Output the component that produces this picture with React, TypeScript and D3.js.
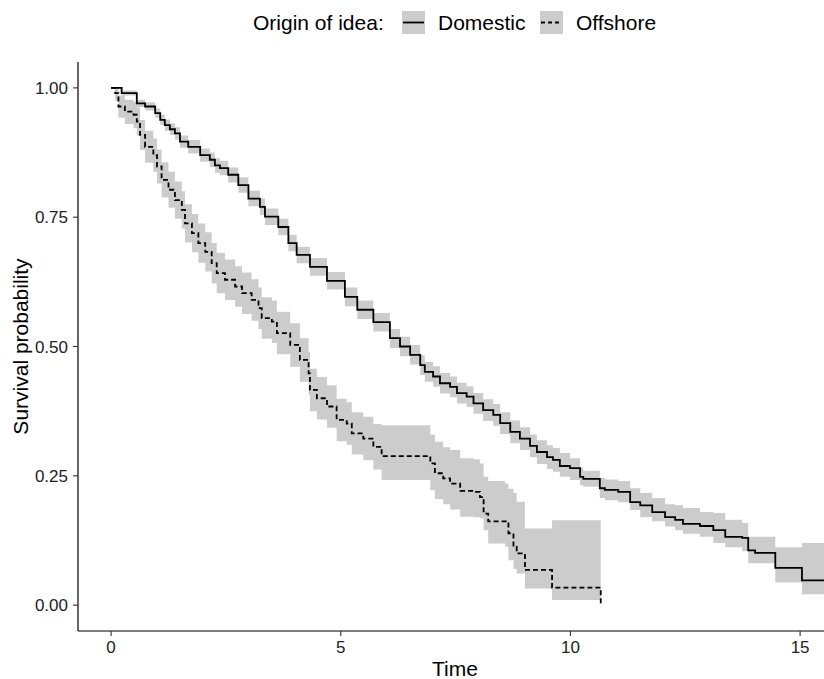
import * as d3 from "d3";

// Kaplan-Meier estimates: time, survival, CI upper, CI lower
const domesticTime = [0, 0.23, 0.56, 0.74, 0.96, 1.07, 1.17, 1.28, 1.39, 1.5, 1.68, 1.94, 2.15, 2.26, 2.37, 2.55, 2.77, 2.99, 3.24, 3.35, 3.64, 3.86, 4.04, 4.33, 4.7, 5.09, 5.36, 5.71, 6.07, 6.29, 6.51, 6.73, 6.83, 7.01, 7.16, 7.38, 7.53, 7.74, 7.89, 8.1, 8.32, 8.47, 8.69, 8.9, 9.12, 9.27, 9.49, 9.62, 9.77, 9.99, 10.21, 10.28, 10.64, 10.75, 11.04, 11.3, 11.52, 11.78, 12.06, 12.28, 12.45, 12.82, 13.11, 13.37, 13.74, 13.87, 14.02, 14.46, 15.04, 15.8];
const domesticSurv = [1, 0.99, 0.97, 0.964, 0.951, 0.938, 0.928, 0.92, 0.912, 0.896, 0.886, 0.87, 0.861, 0.85, 0.845, 0.832, 0.812, 0.786, 0.77, 0.751, 0.731, 0.7, 0.677, 0.654, 0.627, 0.596, 0.571, 0.547, 0.516, 0.5, 0.484, 0.464, 0.451, 0.442, 0.429, 0.422, 0.41, 0.403, 0.39, 0.377, 0.368, 0.352, 0.335, 0.322, 0.308, 0.296, 0.286, 0.281, 0.269, 0.265, 0.248, 0.244, 0.226, 0.223, 0.219, 0.199, 0.193, 0.18, 0.17, 0.165, 0.157, 0.153, 0.145, 0.132, 0.13, 0.106, 0.101, 0.072, 0.048, 0.048];
const domesticUpper = [1, 0.995, 0.977, 0.972, 0.96, 0.948, 0.939, 0.931, 0.924, 0.908, 0.899, 0.883, 0.875, 0.864, 0.859, 0.846, 0.827, 0.801, 0.786, 0.767, 0.747, 0.716, 0.693, 0.671, 0.644, 0.614, 0.589, 0.565, 0.534, 0.519, 0.503, 0.483, 0.47, 0.462, 0.449, 0.442, 0.43, 0.423, 0.41, 0.398, 0.389, 0.373, 0.357, 0.344, 0.33, 0.319, 0.309, 0.304, 0.294, 0.284, 0.266, 0.26, 0.246, 0.243, 0.24, 0.226, 0.217, 0.207, 0.195, 0.193, 0.188, 0.18, 0.178, 0.165, 0.159, 0.132, 0.132, 0.112, 0.12, 0.12];
const domesticLower = [1, 0.985, 0.963, 0.956, 0.942, 0.928, 0.917, 0.909, 0.9, 0.884, 0.873, 0.857, 0.847, 0.836, 0.831, 0.817, 0.797, 0.771, 0.754, 0.735, 0.715, 0.684, 0.661, 0.637, 0.61, 0.578, 0.553, 0.529, 0.497, 0.481, 0.465, 0.445, 0.432, 0.422, 0.409, 0.402, 0.39, 0.383, 0.37, 0.356, 0.347, 0.331, 0.313, 0.3, 0.286, 0.273, 0.263, 0.258, 0.248, 0.242, 0.232, 0.229, 0.207, 0.203, 0.199, 0.184, 0.17, 0.162, 0.152, 0.145, 0.138, 0.132, 0.12, 0.112, 0.104, 0.081, 0.081, 0.044, 0.021, 0.021];

const offshoreTime = [0, 0.09, 0.16, 0.3, 0.49, 0.56, 0.63, 0.74, 0.92, 1.0, 1.1, 1.25, 1.39, 1.54, 1.61, 1.76, 1.9, 2.05, 2.19, 2.3, 2.48, 2.7, 2.85, 3.06, 3.21, 3.28, 3.5, 3.61, 3.9, 4.11, 4.3, 4.33, 4.48, 4.7, 4.91, 5.13, 5.24, 5.49, 5.71, 5.89, 6.95, 7.05, 7.23, 7.38, 7.6, 7.89, 8.03, 8.11, 8.21, 8.58, 8.65, 8.76, 8.83, 9.01, 9.6, 10.66];
const offshoreSurv = [1, 0.99, 0.964, 0.954, 0.948, 0.935, 0.909, 0.886, 0.87, 0.848, 0.822, 0.803, 0.783, 0.764, 0.738, 0.719, 0.7, 0.683, 0.661, 0.642, 0.629, 0.616, 0.603, 0.59, 0.574, 0.555, 0.548, 0.526, 0.503, 0.474, 0.448, 0.416, 0.4, 0.384, 0.358, 0.351, 0.332, 0.322, 0.306, 0.288, 0.274, 0.255, 0.245, 0.235, 0.221, 0.219, 0.209, 0.177, 0.162, 0.162, 0.139, 0.113, 0.1, 0.068, 0.034, 0];
const offshoreUpper = [1, 1, 0.985, 0.977, 0.973, 0.962, 0.938, 0.917, 0.902, 0.881, 0.856, 0.838, 0.819, 0.8, 0.775, 0.756, 0.738, 0.721, 0.7, 0.681, 0.668, 0.655, 0.643, 0.63, 0.614, 0.595, 0.589, 0.567, 0.545, 0.516, 0.49, 0.457, 0.441, 0.425, 0.399, 0.392, 0.373, 0.364, 0.35, 0.348, 0.33, 0.316, 0.305, 0.3, 0.284, 0.282, 0.274, 0.248, 0.24, 0.235, 0.225, 0.217, 0.2, 0.148, 0.164, 0.164];
const offshoreLower = [1, 0.975, 0.942, 0.93, 0.922, 0.908, 0.88, 0.855, 0.838, 0.815, 0.788, 0.768, 0.747, 0.728, 0.701, 0.682, 0.662, 0.645, 0.622, 0.603, 0.59, 0.577, 0.563, 0.55, 0.534, 0.515, 0.507, 0.485, 0.461, 0.432, 0.406, 0.375, 0.359, 0.343, 0.317, 0.31, 0.291, 0.28, 0.262, 0.242, 0.222, 0.205, 0.195, 0.185, 0.171, 0.17, 0.168, 0.145, 0.119, 0.113, 0.087, 0.07, 0.061, 0.032, 0.01, 0.01];

const xTicks = [0, 5, 10, 15];
const yTicks = [0, 0.25, 0.5, 0.75, 1];
const groups = ["Domestic", "Offshore"];

type Row = { t: number; s: number; up: number; lo: number };

const toRows = (t: number[], s: number[], up: number[], lo: number[]): Row[] =>
  t.map((v, i) => ({ t: v, s: s[i], up: up[i], lo: lo[i] }));

const font = "'Liberation Sans', Arial, sans-serif";

export default function App() {
  const width = 824;
  const height = 679;
  const margin = { top: 62, right: 0, bottom: 48, left: 78 };

  const x = d3.scaleLinear([-0.72, 15.52], [margin.left, width - margin.right]);
  const y = d3.scaleLinear([-0.05, 1.05], [height - margin.bottom, margin.top]);

  const line = d3
    .line<Row>()
    .x((d) => x(d.t))
    .y((d) => y(d.s))
    .curve(d3.curveStepAfter);
  const band = d3
    .area<Row>()
    .x((d) => x(d.t))
    .y0((d) => y(d.lo))
    .y1((d) => y(d.up))
    .curve(d3.curveStepAfter);

  const domestic = toRows(domesticTime, domesticSurv, domesticUpper, domesticLower);
  const offshore = toRows(offshoreTime, offshoreSurv, offshoreUpper, offshoreLower);

  const series = [
    { name: groups[0], rows: domestic, dash: undefined as string | undefined },
    { name: groups[1], rows: offshore, dash: "5,3" },
  ];

  const bottom = height - margin.bottom;
  const fmt = d3.format(".2f");

  return (
    <svg
      width={width}
      height={height}
      style={{ position: "absolute", left: 0, top: 0, background: "#fff" }}
      fontFamily={font}
    >
      <defs>
        <clipPath id="panel">
          <rect x={margin.left} y={margin.top} width={width - margin.left - margin.right} height={bottom - margin.top} />
        </clipPath>
      </defs>

      <g clipPath="url(#panel)">
        {series.map((s) => (
          <path key={s.name + "-ci"} d={band(s.rows) ?? ""} fill="#000" fillOpacity={0.2} />
        ))}
        {series.map((s) => (
          <path
            key={s.name}
            d={line(s.rows) ?? ""}
            fill="none"
            stroke="#000"
            strokeWidth={1.8}
            strokeDasharray={s.dash}
          />
        ))}
      </g>

      {/* axes */}
      <line x1={margin.left} x2={width} y1={bottom} y2={bottom} stroke="#000" strokeWidth={1.2} />
      <line x1={margin.left} x2={margin.left} y1={margin.top} y2={bottom} stroke="#000" strokeWidth={1.2} />
      {xTicks.map((t) => (
        <g key={t} transform={`translate(${x(t)},${bottom})`}>
          <line y2={5} stroke="#333" strokeWidth={1.1} />
          <text y={22} textAnchor="middle" fontSize={17} fill="#222">
            {t}
          </text>
        </g>
      ))}
      {yTicks.map((t) => (
        <g key={t} transform={`translate(${margin.left},${y(t)})`}>
          <line x2={-5} stroke="#333" strokeWidth={1.1} />
          <text x={-10} dy="0.36em" textAnchor="end" fontSize={17} fill="#222">
            {fmt(t)}
          </text>
        </g>
      ))}
      <text x={455} y={676} textAnchor="middle" fontSize={21} fill="#000">
        Time
      </text>
      <text transform={`translate(28,${(margin.top + bottom) / 2}) rotate(-90)`} textAnchor="middle" fontSize={21} fill="#000">
        Survival probability
      </text>

      {/* legend */}
      <text x={253} y={30} fontSize={21} fill="#000">
        Origin of idea:
      </text>
      {series.map((s, i) => {
        const kx = i === 0 ? 402 : 540;
        return (
          <g key={s.name + "-key"}>
            <rect x={kx} y={11} width={23} height={23} fill="#000" fillOpacity={0.2} />
            <line x1={kx + 1} x2={kx + 22} y1={22.5} y2={22.5} stroke="#000" strokeWidth={1.8} strokeDasharray={s.dash ? "4,3" : undefined} />
            <text x={kx + 36} y={30} fontSize={21} fill="#000">
              {s.name}
            </text>
          </g>
        );
      })}
    </svg>
  );
}
